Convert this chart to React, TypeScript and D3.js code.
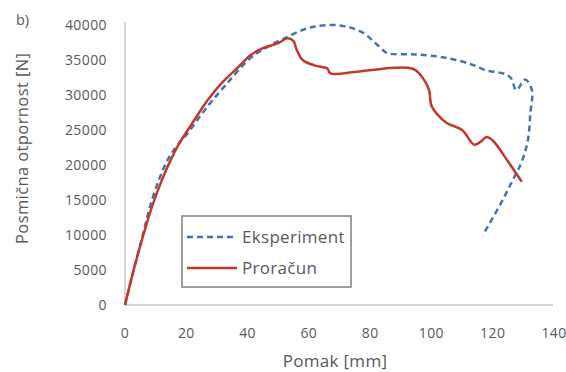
import React from "react";
import * as d3 from "d3";

const xTicks = [0, 20, 40, 60, 80, 100, 120, 140];
const yTicks = [0, 5000, 10000, 15000, 20000, 25000, 30000, 35000, 40000];

const eksperimentX = [0, 3, 6, 8, 11, 14, 17, 20, 27, 33, 41, 47, 53, 58, 62, 67, 72, 77.6, 83, 85.5, 95, 105, 113.5, 118, 121, 124, 126, 127.7, 130.6, 132.8, 132.3, 131.5, 129.5, 126.6, 123, 116.8];
const eksperimentY = [0, 5300, 10300, 13800, 17800, 20800, 22800, 24300, 28400, 31500, 35300, 37000, 38300, 39300, 39800, 40000, 39800, 38900, 36900, 36000, 35800, 35300, 34300, 33500, 33300, 33000, 32400, 30700, 32200, 30700, 27500, 23600, 20500, 17900, 14800, 10000];

const proracunX = [0, 3, 6, 9, 12, 15, 18, 22, 27, 32, 37, 41, 45, 50, 53, 55, 56, 58, 62, 66, 67, 75, 85, 92, 95, 99, 100, 102, 105, 110, 114, 116, 118, 120, 125, 129.5];
const proracunY = [0, 5300, 10000, 14300, 17800, 20800, 23300, 26000, 29300, 31900, 34000, 35700, 36700, 37400, 38100, 37700, 36500, 35000, 34200, 33800, 33100, 33300, 33800, 33900, 33500, 31000, 28500, 27200, 26000, 25000, 22900, 23300, 24000, 23500, 20500, 17600];

const W = 566;
const H = 372;
const FONT = "'Open Sans', 'Noto Sans', sans-serif";

export default function App() {
  const x = d3.scaleLinear().domain([0, 140]).range([125, 554]);
  const y = d3.scaleLinear().domain([0, 40000]).range([305, 25]);

  const line = d3
    .line<[number, number]>()
    .x((d) => x(d[0]))
    .y((d) => y(d[1]))
    .curve(d3.curveCatmullRom.alpha(0.5));

  const eksp: [number, number][] = eksperimentX.map((v, i) => [v, eksperimentY[i]]);
  const pror: [number, number][] = proracunX.map((v, i) => [v, proracunY[i]]);

  const blue = "#4572b4";
  const red = "#c0392e";
  const textCol = "#595959";

  return (
    <svg
      width={W}
      height={H}
      style={{ position: "absolute", left: 0, top: 0, background: "#fff" }}
      fontFamily={FONT}
    >
      <rect x={0} y={0} width={W} height={H} fill="#fff" />
      {/* axes */}
      <line x1={125} x2={125} y1={22} y2={305} stroke="#d4d4d4" strokeWidth={2} />
      <line x1={125} x2={553} y1={305} y2={305} stroke="#d4d4d4" strokeWidth={2} />
      {yTicks.map((t) => (
        <text key={t} x={107} y={y(t)} dy="0.35em" textAnchor="end" fontSize={14} letterSpacing={0.4} fill={textCol}>
          {t}
        </text>
      ))}
      {xTicks.map((t) => (
        <text key={t} x={x(t)} y={338} textAnchor="middle" fontSize={14} letterSpacing={0.4} fill={textCol}>
          {t}
        </text>
      ))}
      <text x={335} y={367} textAnchor="middle" fontSize={17} letterSpacing={0.3} fill={textCol}>
        Pomak [mm]
      </text>
      <text
        transform={`translate(28,244) rotate(-90)`}
        textAnchor="start"
        fontSize={16.5}
        letterSpacing={0.4}
        fill={textCol}
      >
        Posmična otpornost [N]
      </text>
      <text x={16} y={25} fontSize={14.5} fill={textCol}>
        b)
      </text>
      {/* series */}
      <path d={line(eksp) || ""} fill="none" stroke={blue} strokeWidth={2.5} strokeDasharray="6,4" />
      <path d={line(pror) || ""} fill="none" stroke={red} strokeWidth={2.5} />
      {/* legend */}
      <rect x={182} y={216} width={169} height={71} fill="#fff" stroke="#808080" strokeWidth={1.5} />
      <line x1={187} x2={237} y1={237} y2={237} stroke={blue} strokeWidth={2.5} strokeDasharray="6,4" />
      <line x1={187} x2={237} y1={268} y2={268} stroke={red} strokeWidth={2.5} />
      <text x={242} y={237} dy="0.35em" fontSize={17} letterSpacing={0.3} fill={textCol}>
        Eksperiment
      </text>
      <text x={242} y={268} dy="0.35em" fontSize={17} letterSpacing={0.3} fill={textCol}>
        Proračun
      </text>
    </svg>
  );
}
